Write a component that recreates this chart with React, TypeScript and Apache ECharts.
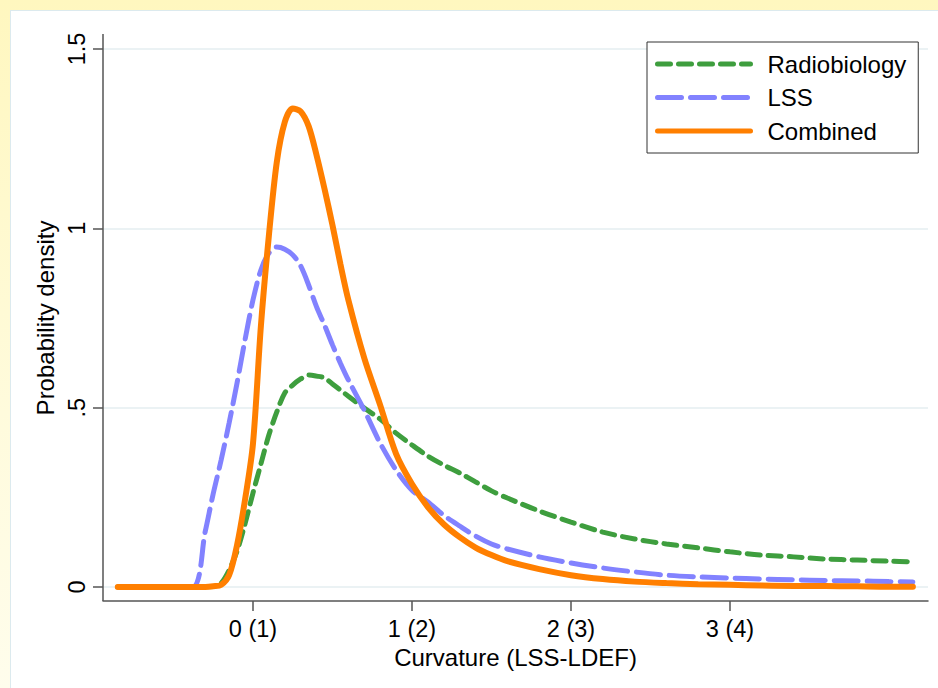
import React, { useEffect, useRef } from "react";
import * as echarts from "echarts";

const curvature = [-0.85, -0.6, -0.38, -0.3, -0.25, -0.2, -0.15, -0.1, -0.05, 0, 0.05, 0.1, 0.15, 0.2, 0.25, 0.3, 0.35, 0.4, 0.45, 0.5, 0.55, 0.6, 0.7, 0.8, 0.9, 1.0, 1.1, 1.2, 1.3, 1.4, 1.5, 1.6, 1.8, 2.0, 2.2, 2.4, 2.6, 2.8, 3.0, 3.2, 3.4, 3.6, 3.8, 4.0, 4.15];

const radiobiology = [0, 0, 0, 0, 0.001, 0.011, 0.047, 0.1, 0.176, 0.262, 0.343, 0.424, 0.488, 0.541, 0.563, 0.58, 0.591, 0.588, 0.583, 0.566, 0.549, 0.532, 0.499, 0.468, 0.429, 0.396, 0.365, 0.34, 0.318, 0.293, 0.268, 0.248, 0.212, 0.181, 0.153, 0.134, 0.12, 0.109, 0.098, 0.089, 0.084, 0.078, 0.075, 0.072, 0.07];

const lss = [0, 0, 0, 0.155, 0.26, 0.354, 0.457, 0.569, 0.689, 0.8, 0.884, 0.931, 0.948, 0.942, 0.926, 0.895, 0.842, 0.781, 0.73, 0.675, 0.624, 0.577, 0.493, 0.401, 0.326, 0.27, 0.237, 0.2, 0.17, 0.142, 0.12, 0.106, 0.084, 0.067, 0.053, 0.042, 0.033, 0.028, 0.025, 0.022, 0.02, 0.018, 0.017, 0.015, 0.014];

const combined = [0, 0, 0, 0, 0.002, 0.006, 0.033, 0.117, 0.243, 0.399, 0.728, 0.979, 1.185, 1.296, 1.334, 1.326, 1.285, 1.204, 1.11, 1.009, 0.9, 0.8, 0.638, 0.507, 0.371, 0.287, 0.223, 0.175, 0.139, 0.11, 0.089, 0.072, 0.05, 0.033, 0.022, 0.015, 0.011, 0.008, 0.006, 0.004, 0.003, 0.003, 0.002, 0.001, 0.001];

const seriesNames = ["Radiobiology", "LSS", "Combined"];
const xTickValues = [0, 1, 2, 3];
const xTickLabels = ["0 (1)", "1 (2)", "2 (3)", "3 (4)"];
const yTickValues = [0, 0.5, 1, 1.5];
const yTickLabels = ["0", ".5", "1", "1.5"];

const FONT = "Liberation Sans, Arial, sans-serif";

export default function App() {
  const ref = useRef<HTMLDivElement>(null);
  useEffect(() => {
    if (!ref.current) return;
    const chart = echarts.init(ref.current, null, { renderer: "svg" });
    const pairs = (ys: number[]) => curvature.map((x, i) => [x, ys[i]]);
    chart.setOption({
      animation: false,
      backgroundColor: "transparent",
      textStyle: { fontFamily: FONT },
      grid: { left: 103, right: 10, top: 49, bottom: 101, containLabel: false },
      graphic: [
        {
          type: "line",
          shape: { x1: 103, y1: 34, x2: 103, y2: 601 },
          style: { stroke: "#555555", lineWidth: 1.5 },
          z: 5,
        },
      ],
      legend: {
        orient: "vertical",
        left: 647,
        top: 42,
        padding: [10, 12, 10, 8],
        itemGap: 9.5,
        itemWidth: 93,
        itemHeight: 14,
        backgroundColor: "#ffffff",
        borderColor: "#333333",
        borderWidth: 1,
        borderRadius: 0,
        textStyle: { fontSize: 24, color: "#000000", fontFamily: FONT, padding: [0, 0, 0, 12] },
        lineStyle: { width: 5, type: "inherit" },
        itemStyle: { opacity: 0 },
        data: seriesNames,
      },
      xAxis: {
        type: "value",
        min: -0.943,
        max: 4.245,
        offset: 14,
        name: "Curvature (LSS-LDEF)",
        nameLocation: "middle",
        nameGap: 26,
        nameTextStyle: { fontSize: 24, color: "#000000", fontFamily: FONT },
        axisLine: { show: true, onZero: false, lineStyle: { color: "#555555", width: 1.5 } },
        axisTick: { show: true, length: 10, customValues: xTickValues, lineStyle: { color: "#555555", width: 1.5 } },
        axisLabel: {
          show: true,
          customValues: xTickValues,
          margin: 16,
          fontSize: 23.5,
          color: "#000000",
          fontFamily: FONT,
          formatter: (v: number) => {
            const i = xTickValues.indexOf(Math.round(v));
            return i >= 0 ? xTickLabels[i] : "";
          },
        },
        splitLine: { show: false },
      },
      yAxis: {
        type: "value",
        min: 0,
        max: 1.5,
        interval: 0.5,
        name: "Probability density",
        nameLocation: "middle",
        nameGap: 44,
        nameTextStyle: { fontSize: 24, color: "#000000", fontFamily: FONT },
        axisLine: { show: false, onZero: false },
        axisTick: { show: true, length: 10, lineStyle: { color: "#555555", width: 1.5 } },
        axisLabel: {
          rotate: 90,
          margin: 14,
          fontSize: 23.5,
          color: "#000000",
          fontFamily: FONT,
          formatter: (v: number) => {
            const i = yTickValues.findIndex((t) => Math.abs(t - v) < 1e-6);
            return i >= 0 ? yTickLabels[i] : "";
          },
        },
        splitLine: { show: true, lineStyle: { color: "#E4EEF1", width: 1.5 } },
      },
      series: [
        {
          name: seriesNames[0],
          type: "line",
          data: pairs(radiobiology),
          symbol: "none",
          smooth: 0.3,
          lineStyle: { color: "#3E9E3E", width: 5, type: [13, 8], cap: "round" },
          itemStyle: { color: "#3E9E3E" },
          z: 2,
        },
        {
          name: seriesNames[1],
          type: "line",
          data: pairs(lss),
          symbol: "none",
          smooth: 0.3,
          lineStyle: { color: "#8282FF", width: 5, type: [24, 9], cap: "round" },
          itemStyle: { color: "#8282FF" },
          z: 3,
        },
        {
          name: seriesNames[2],
          type: "line",
          data: pairs(combined),
          symbol: "none",
          smooth: 0.3,
          lineStyle: { color: "#FF7F00", width: 6, type: "solid", cap: "round" },
          itemStyle: { color: "#FF7F00" },
          z: 4,
        },
      ],
    });
    return () => chart.dispose();
  }, []);

  return (
    <div
      style={{
        position: "fixed",
        left: 0,
        top: 0,
        width: 938,
        height: 688,
        background: "linear-gradient(180deg, #FFF7BF 0%, #FFFBDC 60%, #FFFDEC 100%)",
      }}
    >
      <div
        style={{
          position: "absolute",
          left: 10,
          top: 10,
          width: 928,
          height: 678,
          background: "#ffffff",
          borderTop: "1.5px solid #DCEAEE",
          borderLeft: "1.5px solid #DCEAEE",
          boxSizing: "border-box",
        }}
      />
      <div ref={ref} style={{ position: "absolute", left: 0, top: 0, width: 938, height: 688 }} />
    </div>
  );
}
